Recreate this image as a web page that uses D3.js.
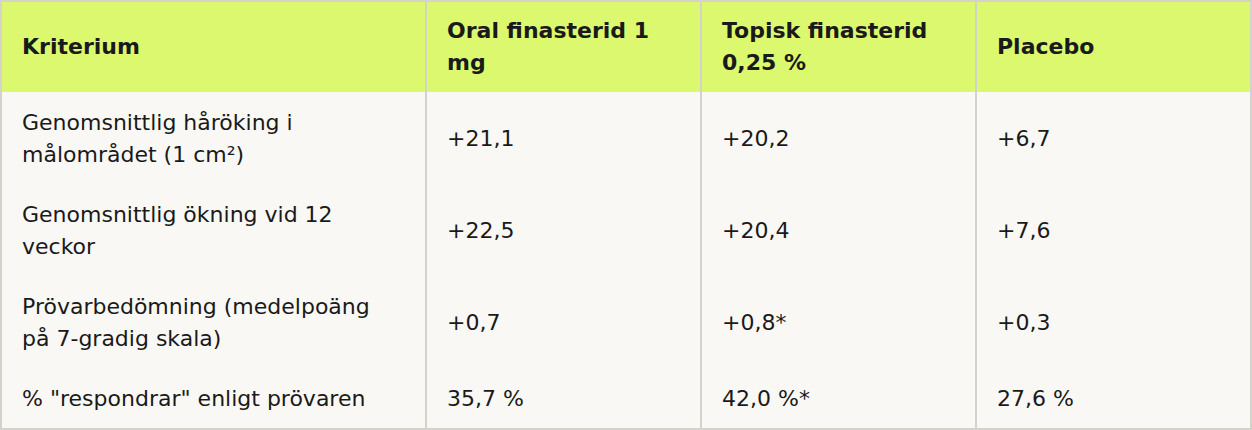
<!DOCTYPE html>
<html><head><meta charset="utf-8">
<script src="https://cdn.jsdelivr.net/npm/d3@7"></script>
<style>
html,body{margin:0;padding:0;background:#ffffff;}
svg{display:block;}
text{font-family:"DejaVu Sans",sans-serif;}
</style></head>
<body>
<svg id="chart" width="1252" height="430"></svg>
<script>
const headers = ["Kriterium", "Oral finasterid 1 mg", "Topisk finasterid 0,25 %", "Placebo"];
const criteria = [
  "Genomsnittlig håröking i målområdet (1 cm²)",
  "Genomsnittlig ökning vid 12 veckor",
  "Prövarbedömning (medelpoäng på 7-gradig skala)",
  "% \"respondrar\" enligt prövaren"
];
const oralValues = ["+21,1", "+22,5", "+0,7", "35,7 %"];
const topicalValues = ["+20,2", "+20,4", "+0,8*", "42,0 %*"];
const placeboValues = ["+6,7", "+7,6", "+0,3", "27,6 %"];

const W = 1252, H = 430;
const fontSize = 22, lineH = 32, padX = 21, padY = 14;
const colEdges = [0, 426, 701, 976, 1252];
const svg = d3.select("#chart");

const x = d3.scaleOrdinal().domain(d3.range(4)).range(colEdges.slice(0, 4));
const colW = i => colEdges[i + 1] - colEdges[i];

const measure = svg.append("text").attr("font-size", fontSize).attr("visibility", "hidden");
function wrap(str, maxW, bold) {
  measure.attr("font-weight", bold ? "bold" : "normal");
  const words = str.split(" ");
  const lines = [];
  let cur = "";
  words.forEach(w => {
    const t = cur ? cur + " " + w : w;
    measure.text(t);
    if (measure.node().getComputedTextLength() > maxW && cur) {
      lines.push(cur); cur = w;
    } else cur = t;
  });
  if (cur) lines.push(cur);
  return lines;
}

const rows = [{cells: headers, header: true}].concat(
  criteria.map((c, i) => ({cells: [c, oralValues[i], topicalValues[i], placeboValues[i]], header: false}))
);
rows.forEach(r => {
  r.lines = r.cells.map((c, i) => wrap(c, colW(i) - 44, r.header));
  r.h = d3.max(r.lines, l => l.length) * lineH + 2 * padY;
});
let yAcc = 0;
rows.forEach(r => { r.y = yAcc; yAcc += r.h; });
measure.remove();

// backgrounds
svg.append("rect").attr("x", 0).attr("y", 0).attr("width", W).attr("height", H).attr("fill", "#f9f8f5");
const g = svg.selectAll("g.row").data(rows).join("g").attr("class", "row")
  .attr("transform", d => `translate(0,${d.y})`);
g.filter(d => d.header).append("rect").attr("x", 0).attr("y", 0).attr("width", W)
  .attr("height", d => d.h).attr("fill", "#dbf86e");

g.each(function(r) {
  const row = d3.select(this);
  const cell = row.selectAll("text").data(r.lines.map((l, i) => ({lines: l, i, h: r.h, header: r.header})))
    .join("text")
    .attr("x", d => x(d.i) + padX + (d.i === 0 ? 1 : 0))
    .attr("font-size", fontSize)
    .attr("font-weight", d => d.header ? "bold" : "normal")
    .attr("fill", "#1a1a1a");
  cell.each(function(d) {
    const n = d.lines.length;
    const top = d.h / 2 - n * lineH / 2;
    d3.select(this).selectAll("tspan").data(d.lines).join("tspan")
      .attr("x", x(d.i) + padX + (d.i === 0 ? 1 : 0))
      .attr("y", (l, k) => top + k * lineH + lineH / 2)
      .attr("dy", "0.36em")
      .text(l => l);
  });
});

// vertical separators
svg.selectAll("line.sep").data(colEdges.slice(1, 4)).join("line").attr("class", "sep")
  .attr("x1", d => d).attr("x2", d => d).attr("y1", 0).attr("y2", H)
  .attr("stroke", "#d3d2cb").attr("stroke-width", 2);
// outer border
svg.append("rect").attr("x", 1).attr("y", 1).attr("width", W - 2).attr("height", H - 2)
  .attr("fill", "none").attr("stroke", "#d3d2cb").attr("stroke-width", 2);
</script>
</body></html>
